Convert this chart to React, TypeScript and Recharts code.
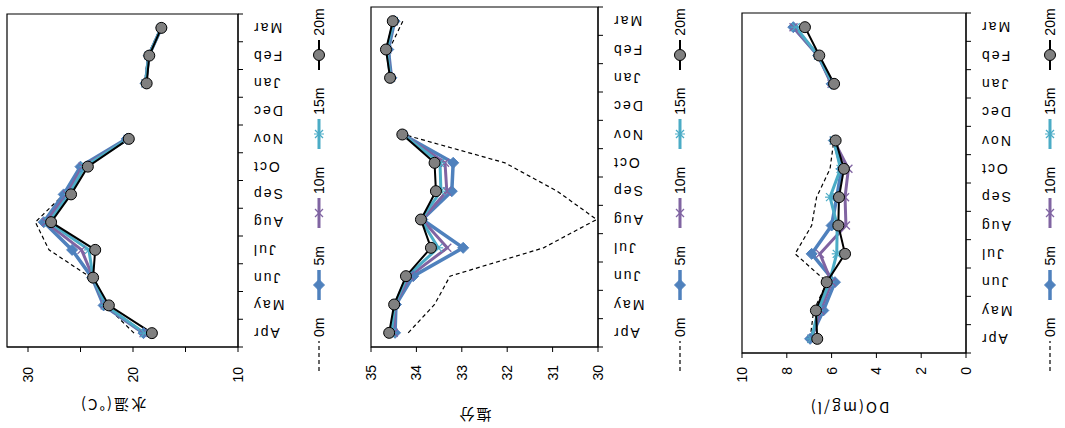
import React from 'react';
import { LineChart, Line, XAxis, YAxis, ReferenceArea, Label } from 'recharts';

// 月 (Apr -> Mar), Dec は欠測
const months = ['Apr', 'May', 'Jun', 'Jul', 'Aug', 'Sep', 'Oct', 'Nov', 'Dec', 'Jan', 'Feb', 'Mar'];
const depths = ['0m', '5m', '10m', '15m', '20m'];

// 水温 (°C)
const temp0m = [19.9, 22.6, 24.0, 28.0, 29.3, 26.6, 25.0, 20.6, null, 18.9, 18.6, 17.4];
const temp5m = [19.0, 22.8, 23.9, 25.8, 28.5, 26.6, 25.0, 20.6, null, 18.8, 18.5, 17.3];
const temp10m = [19.0, 22.7, 23.8, 24.9, 28.3, 26.3, 24.8, 20.5, null, 18.8, 18.5, 17.3];
const temp15m = [18.9, 22.6, 23.8, 24.2, 28.0, 26.1, 24.6, 20.5, null, 18.8, 18.5, 17.3];
const temp20m = [18.2, 22.3, 23.8, 23.6, 27.8, 25.9, 24.3, 20.4, null, 18.7, 18.45, 17.3];

// 塩分
const sal0m = [34.18, 33.6, 33.26, 31.2, 30.03, 30.9, 32.05, 34.28, null, 34.55, 34.6, 34.3];
const sal5m = [34.47, 34.45, 34.07, 32.97, 33.87, 33.22, 33.19, 34.3, null, 34.55, 34.62, 34.48];
const sal10m = [34.5, 34.47, 34.15, 33.32, 33.88, 33.33, 33.37, 34.3, null, 34.56, 34.64, 34.5];
const sal15m = [34.55, 34.48, 34.2, 33.52, 33.9, 33.46, 33.48, 34.3, null, 34.57, 34.65, 34.5];
const sal20m = [34.6, 34.49, 34.23, 33.68, 33.9, 33.57, 33.6, 34.31, null, 34.58, 34.67, 34.52];

// DO (mg/l)
const do0m = [6.96, 6.8, 6.2, 7.63, 6.89, 6.67, 6.07, 5.9, null, 6.0, 6.6, 7.6];
const do5m = [6.96, 6.37, 5.85, 6.89, 6.0, 5.77, 5.55, 5.9, null, 6.0, 6.6, 7.71];
const do10m = [6.9, 6.5, 6.0, 6.52, 5.36, 5.4, 5.25, 5.9, null, 6.0, 6.6, 7.7];
const do15m = [6.9, 6.6, 6.1, 5.77, 5.75, 6.07, 5.6, 5.9, null, 5.95, 6.6, 7.6];
const do20m = [6.64, 6.7, 6.22, 5.4, 5.7, 5.67, 5.45, 5.82, null, 5.89, 6.55, 7.19];

const tempTicks = [10, 15, 20, 25, 30];
const salTicks = [30, 31, 32, 33, 34, 35];
const doTicks = [0, 2, 4, 6, 8, 10];

type Row = Record<string, string | number | null>;

const buildRows = (cols: (number | null)[][]): Row[] =>
  months.map((m, i) => {
    const row: Row = { month: m };
    depths.forEach((d, j) => {
      row[d] = cols[j][i];
    });
    return row;
  });

const tempRows = buildRows([temp0m, temp5m, temp10m, temp15m, temp20m]);
const salRows = buildRows([sal0m, sal5m, sal10m, sal15m, sal20m]);
const doRows = buildRows([do0m, do5m, do10m, do15m, do20m]);

const SERIES = [
  { key: '0m', color: '#000000', width: 1.2, dash: '4 3', marker: 'none' },
  { key: '5m', color: '#4F81BD', width: 3.5, dash: undefined, marker: 'diamond' },
  { key: '10m', color: '#8064A2', width: 3, dash: undefined, marker: 'x' },
  { key: '15m', color: '#4BACC6', width: 3, dash: undefined, marker: 'star' },
  { key: '20m', color: '#000000', width: 2, dash: undefined, marker: 'circle' },
];

const LABEL_GAP = 14;
const TICK_LEN = 5;

const Marker = ({ type, color, cx, cy }: { type: string; color: string; cx: number; cy: number }) => {
  if (type === 'diamond') {
    const s = 5.5;
    return (
      <polygon
        points={`${cx},${cy - s} ${cx + s},${cy} ${cx},${cy + s} ${cx - s},${cy}`}
        fill={color}
        stroke={color}
      />
    );
  }
  if (type === 'x') {
    const s = 4;
    return (
      <g stroke={color} strokeWidth={1.3}>
        <line x1={cx - s} y1={cy - s} x2={cx + s} y2={cy + s} />
        <line x1={cx - s} y1={cy + s} x2={cx + s} y2={cy - s} />
      </g>
    );
  }
  if (type === 'star') {
    const s = 4;
    return (
      <g stroke={color} strokeWidth={1.2}>
        <line x1={cx - s} y1={cy - s} x2={cx + s} y2={cy + s} />
        <line x1={cx - s} y1={cy + s} x2={cx + s} y2={cy - s} />
        <line x1={cx} y1={cy - s - 1} x2={cx} y2={cy + s + 1} />
      </g>
    );
  }
  if (type === 'circle') {
    return <circle cx={cx} cy={cy} r={5.5} fill="#808080" stroke="#000" strokeWidth={1} />;
  }
  return null;
};

// 月ラベル + カテゴリ境界の目盛り (Excel 風)
const MonthTick = (props: any) => {
  const { x, y, payload, index, visibleTicksCount } = props;
  const off = payload && typeof payload.offset === 'number' ? payload.offset : 0;
  const axisY = y - LABEL_GAP;
  const isLast = visibleTicksCount != null ? index === visibleTicksCount - 1 : payload.value === months[months.length - 1];
  return (
    <g>
      {off > 0 && <line x1={x - off} y1={axisY} x2={x - off} y2={axisY + TICK_LEN} stroke="#000" />}
      {off > 0 && isLast && <line x1={x + off} y1={axisY} x2={x + off} y2={axisY + TICK_LEN} stroke="#000" />}
      <text
        x={x}
        y={y}
        transform={`rotate(-90 ${x} ${y})`}
        textAnchor="end"
        dominantBaseline="central"
        fontSize={14}
        letterSpacing={2}
        fill="#000"
      >
        {payload.value}
      </text>
    </g>
  );
};

interface PanelProps {
  rows: Row[];
  title: string;
  domain: [number, number];
  ticks: number[];
  labelEvery?: number;
  margin: { top: number; right: number; left: number; bottom: number };
  tickMargin: number;
  titleX: number;
  titleShift: number;
  legendY: number;
}

const SeriesLegend = ({ top }: { top: number }) => (
  <div
    style={{
      position: 'absolute',
      top,
      left: 57,
      display: 'flex',
      alignItems: 'center',
      gap: 18,
      fontSize: 14,
      color: '#000',
      lineHeight: '18px',
    }}
  >
    {SERIES.map((s) => (
      <div key={s.key} style={{ display: 'flex', alignItems: 'center' }}>
        <svg width={30} height={18}>
          <line x1={0} y1={9} x2={30} y2={9} stroke={s.color} strokeWidth={s.width} strokeDasharray={s.dash} />
          <Marker type={s.marker} color={s.color} cx={15} cy={9} />
        </svg>
        <span style={{ marginLeft: 4 }}>{s.key}</span>
      </div>
    ))}
  </div>
);

const Panel = ({ rows, title, domain, ticks, labelEvery, margin, tickMargin, titleX, titleShift, legendY }: PanelProps) => (
  <div style={{ position: 'relative', width: 428, height: 355 }}>
    <LineChart width={428} height={355} data={rows} margin={margin}>
      <XAxis
        dataKey="month"
        scale="band"
        height={50}
        tickLine={false}
        axisLine={{ stroke: '#000' }}
        tickSize={0}
        tickMargin={LABEL_GAP}
        interval={0}
        tick={<MonthTick />}
      />
      <YAxis
        domain={domain}
        ticks={ticks}
        allowDataOverflow
        width={60}
        tickSize={TICK_LEN}
        tickMargin={tickMargin}
        axisLine={{ stroke: '#000' }}
        tickLine={{ stroke: '#000' }}
        tick={{ fill: '#000', fontSize: 14 }}
        tickFormatter={(v: number) => (labelEvery && v % labelEvery !== 0 ? '' : String(v))}
      >
        <Label
          content={({ viewBox }: any) => {
            const cy = viewBox.y + viewBox.height / 2 + titleShift;
            return (
              <text
                x={titleX}
                y={cy}
                transform={`rotate(-90 ${titleX} ${cy})`}
                textAnchor="middle"
                dominantBaseline="central"
                fontSize={15}
                letterSpacing={2}
                fill="#000"
                style={{ fontFamily: '"Noto Sans CJK JP", "Liberation Sans", sans-serif' }}
              >
                {title}
              </text>
            );
          }}
        />
      </YAxis>
      <ReferenceArea
        x1={months[0]}
        x2={months[months.length - 1]}
        y1={domain[0]}
        y2={domain[1]}
        fill="none"
        stroke="#000"
        strokeWidth={1.2}
        ifOverflow="visible"
      />
      {SERIES.map((s) => (
        <Line
          key={s.key}
          type="linear"
          dataKey={s.key}
          stroke={s.color}
          strokeWidth={s.width}
          strokeDasharray={s.dash}
          isAnimationActive={false}
          activeDot={false}
          dot={(p: any) =>
            p.value == null || p.cy == null ? (
              <g key={`d-${s.key}-${p.index}`} />
            ) : (
              <g key={`d-${s.key}-${p.index}`}>
                <Marker type={s.marker} color={s.color} cx={p.cx} cy={p.cy} />
              </g>
            )
          }
        />
      ))}
    </LineChart>
    <SeriesLegend top={legendY - 9} />
  </div>
);

export default function App() {
  return (
    <div
      style={{
        position: 'absolute',
        left: 0,
        top: 0,
        width: 1065,
        height: 428,
        overflow: 'hidden',
        background: '#fff',
        fontFamily: '"Liberation Sans", Arial, sans-serif',
      }}
    >
      <div
        style={{
          position: 'absolute',
          left: 0,
          top: 0,
          width: 428,
          height: 1065,
          transformOrigin: '0 0',
          transform: 'translateY(428px) rotate(-90deg)',
        }}
      >
        <Panel
          rows={tempRows}
          title="水温(°C)"
          domain={[10, 32]}
          ticks={tempTicks}
          labelEvery={10}
          margin={{ top: 7, right: 14, left: 21, bottom: 67 }}
          tickMargin={15}
          titleX={23}
          titleShift={-10}
          legendY={319}
        />
        <Panel
          rows={salRows}
          title="塩分"
          domain={[30, 35]}
          ticks={salTicks}
          margin={{ top: 16, right: 7, left: 21, bottom: 62 }}
          tickMargin={13}
          titleX={13}
          titleShift={-10}
          legendY={325}
        />
        <Panel
          rows={doRows}
          title="DO(mg/l)"
          domain={[0, 10]}
          ticks={doTicks}
          margin={{ top: 32, right: 13, left: 15, bottom: 49 }}
          tickMargin={9}
          titleX={20}
          titleShift={-5}
          legendY={340}
        />
      </div>
    </div>
  );
}
